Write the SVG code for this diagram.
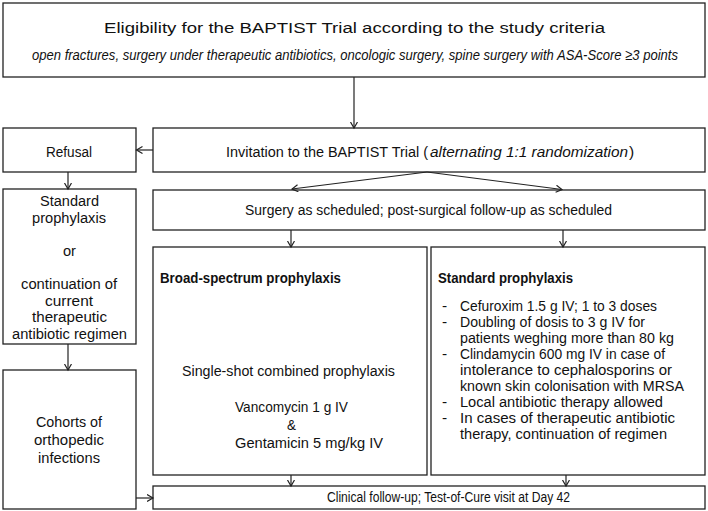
<svg xmlns="http://www.w3.org/2000/svg" width="708" height="511" viewBox="0 0 708 511">
<style>
.box{fill:#fff;stroke:#222;stroke-width:1.3}
.t{font-family:"Liberation Sans",Arial,sans-serif;fill:#111;font-size:15.5px}
.b{font-weight:bold}
.i{font-style:italic}
.con line{stroke:#222;stroke-width:1.2;fill:none;marker-end:url(#ah)}
</style>
<defs>
<marker id="ah" markerUnits="userSpaceOnUse" markerWidth="8" markerHeight="10" refX="6.5" refY="4" orient="auto">
<path d="M0.5,0.5 L6.5,4 L0.5,7.5" fill="none" stroke="#222" stroke-width="1.2"/>
</marker>
</defs>
<rect width="708" height="511" fill="#fff"/>
<g id="eligibility">
<rect class="box" x="3" y="3" width="702" height="74"/>
<text class="t" x="104" y="33" font-size="21" textLength="501" lengthAdjust="spacingAndGlyphs">Eligibility for the BAPTIST Trial according to the study criteria</text>
<text class="t i" x="32" y="60" font-size="12" textLength="646" lengthAdjust="spacingAndGlyphs">open fractures, surgery under therapeutic antibiotics, oncologic surgery, spine surgery with ASA-Score ≥3 points</text>
</g>
<g id="refusal">
<rect class="box" x="3" y="128" width="133" height="44"/>
<text class="t" x="46" y="157" textLength="46" lengthAdjust="spacingAndGlyphs">Refusal</text>
</g>
<g id="invitation">
<rect class="box" x="153" y="128" width="552" height="44"/>
<text class="t" x="226" y="157" textLength="202" lengthAdjust="spacingAndGlyphs">Invitation to the BAPTIST Trial (</text>
<text class="t i" x="430" y="157" textLength="198" lengthAdjust="spacingAndGlyphs">alternating 1:1 randomization</text>
<text class="t" x="629" y="157">)</text>
</g>
<g id="standard-left">
<rect class="box" x="3" y="189" width="133" height="155"/>
<text class="t" x="40" y="206" textLength="59" lengthAdjust="spacingAndGlyphs">Standard</text>
<text class="t" x="32" y="223" textLength="74" lengthAdjust="spacingAndGlyphs">prophylaxis</text>
<text class="t" x="63" y="256" textLength="13" lengthAdjust="spacingAndGlyphs">or</text>
<text class="t" x="21" y="289" textLength="96" lengthAdjust="spacingAndGlyphs">continuation of</text>
<text class="t" x="45" y="306" textLength="48" lengthAdjust="spacingAndGlyphs">current</text>
<text class="t" x="32" y="322" textLength="75" lengthAdjust="spacingAndGlyphs">therapeutic</text>
<text class="t" x="12" y="339" textLength="115" lengthAdjust="spacingAndGlyphs">antibiotic regimen</text>
</g>
<g id="surgery">
<rect class="box" x="153" y="190" width="552" height="40"/>
<text class="t" x="245" y="215" textLength="367" lengthAdjust="spacingAndGlyphs">Surgery as scheduled; post-surgical follow-up as scheduled</text>
</g>
<g id="broad-spectrum">
<rect class="box" x="153" y="247" width="274" height="228"/>
<text class="t b" x="160" y="283" textLength="181" lengthAdjust="spacingAndGlyphs">Broad-spectrum prophylaxis</text>
<text class="t" x="182" y="376" textLength="213" lengthAdjust="spacingAndGlyphs">Single-shot combined prophylaxis</text>
<text class="t" x="235" y="412" textLength="113" lengthAdjust="spacingAndGlyphs">Vancomycin 1 g  IV</text>
<text class="t" x="287" y="430" textLength="9" lengthAdjust="spacingAndGlyphs">&amp;</text>
<text class="t" x="235" y="448" textLength="148" lengthAdjust="spacingAndGlyphs">Gentamicin 5 mg/kg IV</text>
</g>
<g id="standard-right">
<rect class="box" x="431" y="247" width="274" height="228"/>
<text class="t b" x="438" y="283" textLength="135" lengthAdjust="spacingAndGlyphs">Standard prophylaxis</text>
<text class="t" x="442" y="311">-</text>
<text class="t" x="460" y="311" textLength="197" lengthAdjust="spacingAndGlyphs">Cefuroxim 1.5 g IV; 1 to 3 doses</text>
<text class="t" x="442" y="327">-</text>
<text class="t" x="460" y="327" textLength="185" lengthAdjust="spacingAndGlyphs">Doubling of dosis to 3 g IV for</text>
<text class="t" x="460" y="343" textLength="214" lengthAdjust="spacingAndGlyphs">patients weghing more than 80 kg</text>
<text class="t" x="442" y="359">-</text>
<text class="t" x="460" y="359" textLength="205" lengthAdjust="spacingAndGlyphs">Clindamycin 600 mg IV in case of</text>
<text class="t" x="460" y="375" textLength="212" lengthAdjust="spacingAndGlyphs">intolerance to cephalosporins or</text>
<text class="t" x="460" y="391" textLength="224" lengthAdjust="spacingAndGlyphs">known skin colonisation with MRSA</text>
<text class="t" x="442" y="407">-</text>
<text class="t" x="460" y="407" textLength="203" lengthAdjust="spacingAndGlyphs">Local antibiotic therapy allowed</text>
<text class="t" x="442" y="423">-</text>
<text class="t" x="460" y="423" textLength="215" lengthAdjust="spacingAndGlyphs">In cases of therapeutic antibiotic</text>
<text class="t" x="460" y="439" textLength="207" lengthAdjust="spacingAndGlyphs">therapy, continuation of regimen</text>
</g>
<g id="cohorts">
<rect class="box" x="3" y="370" width="133" height="139"/>
<text class="t" x="36" y="427" textLength="66" lengthAdjust="spacingAndGlyphs">Cohorts of</text>
<text class="t" x="34" y="445" textLength="70" lengthAdjust="spacingAndGlyphs">orthopedic</text>
<text class="t" x="38" y="463" textLength="62" lengthAdjust="spacingAndGlyphs">infections</text>
</g>
<g id="follow-up">
<rect class="box" x="153" y="486" width="552" height="23"/>
<text class="t" x="327" y="502" font-size="14" textLength="243" lengthAdjust="spacingAndGlyphs">Clinical follow-up; Test-of-Cure visit at Day 42</text>
</g>
<g id="connectors" class="con">
<line x1="354" y1="77" x2="354" y2="128"/>
<line x1="153" y1="150" x2="136.5" y2="150"/>
<line x1="68" y1="172" x2="68" y2="189"/>
<line x1="427" y1="172" x2="292" y2="189"/>
<line x1="427" y1="172" x2="562" y2="189.5"/>
<line x1="291" y1="230" x2="291" y2="247"/>
<line x1="563" y1="230" x2="563" y2="247"/>
<line x1="68" y1="344" x2="68" y2="370"/>
<line x1="136" y1="498" x2="153" y2="498"/>
<line x1="291" y1="475" x2="291" y2="486"/>
<line x1="566" y1="475" x2="566" y2="486"/>
</g>
</svg>
